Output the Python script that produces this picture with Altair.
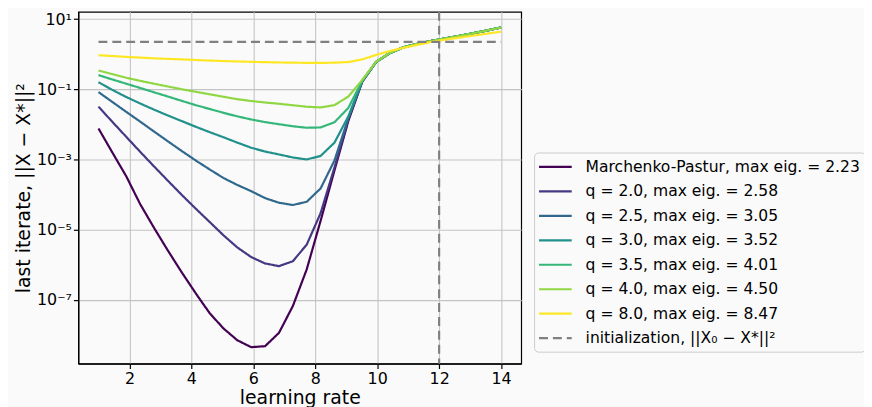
import altair as alt
import pandas as pd

# learning rates (x positions of the sampled points)
lr = [1.0, 1.448, 1.897, 2.345, 2.793, 3.241, 3.69, 4.138, 4.586, 5.034,
      5.483, 5.931, 6.379, 6.828, 7.276, 7.724, 8.172, 8.621, 9.069, 9.517,
      9.966, 10.414, 10.862, 11.31, 11.759, 12.207, 12.655, 13.103, 13.552, 14.0]

mp = [7.66e-3, 1.58e-3, 3.32e-4, 5.37e-5, 1.13e-5, 2.54e-6, 6.07e-7, 1.55e-7, 4.23e-8, 1.54e-8,
      7.08e-9, 4.49e-9, 4.79e-9, 1.15e-8, 6.65e-8, 7.38e-7, 1.78e-5, 4.90e-4, 1.26e-2, 0.164,
      0.604, 1.083, 1.58, 1.98, 2.39, 2.82, 3.31, 3.95, 4.73, 5.75]
q20 = [3.20e-2, 1.18e-2, 4.41e-3, 1.66e-3, 6.35e-4, 2.48e-4, 9.77e-5, 3.99e-5, 1.67e-5, 6.94e-6,
       3.12e-6, 1.66e-6, 1.09e-6, 9.14e-7, 1.26e-6, 3.74e-6, 2.94e-5, 5.96e-4, 1.39e-2, 0.168,
       0.60, 1.08, 1.58, 1.98, 2.39, 2.82, 3.31, 3.95, 4.74, 5.76]
q25 = [8.32e-2, 4.34e-2, 2.27e-2, 1.20e-2, 6.26e-3, 3.29e-3, 1.74e-3, 9.38e-4, 5.23e-4, 2.97e-4,
       1.88e-4, 1.25e-4, 7.94e-5, 5.85e-5, 5.04e-5, 6.24e-5, 1.49e-4, 9.38e-4, 1.53e-2, 0.170,
       0.60, 1.08, 1.58, 1.98, 2.39, 2.82, 3.31, 3.96, 4.74, 5.77]
q30 = [0.159, 9.59e-2, 6.01e-2, 3.94e-2, 2.63e-2, 1.79e-2, 1.24e-2, 8.55e-3, 6.02e-3, 4.30e-3,
       3.02e-3, 2.16e-3, 1.68e-3, 1.39e-3, 1.14e-3, 1.00e-3, 1.26e-3, 3.02e-3, 1.69e-2, 0.172,
       0.60, 1.08, 1.58, 1.98, 2.39, 2.82, 3.32, 3.96, 4.75, 5.78]
q35 = [0.253, 0.190, 0.144, 0.109, 8.20e-2, 6.21e-2, 4.67e-2, 3.53e-2, 2.75e-2, 2.14e-2,
       1.69e-2, 1.38e-2, 1.16e-2, 1.01e-2, 8.83e-3, 8.01e-3, 8.17e-3, 1.15e-2, 2.94e-2, 0.177,
       0.61, 1.09, 1.58, 1.98, 2.39, 2.82, 3.32, 3.96, 4.75, 5.78]
q40 = [0.343, 0.270, 0.213, 0.174, 0.144, 0.120, 0.100, 8.48e-2, 7.21e-2, 6.12e-2,
       5.21e-2, 4.63e-2, 4.20e-2, 3.86e-2, 3.50e-2, 3.18e-2, 3.04e-2, 3.53e-2, 6.21e-2, 0.184,
       0.61, 1.09, 1.58, 1.98, 2.38, 2.81, 3.30, 3.94, 4.72, 5.72]
q80 = [0.933, 0.885, 0.835, 0.798, 0.762, 0.733, 0.710, 0.683, 0.657, 0.636,
       0.620, 0.604, 0.592, 0.580, 0.573, 0.565, 0.562, 0.573, 0.596, 0.710,
       0.951, 1.233, 1.528, 1.846, 2.243, 2.605, 2.966, 3.378, 3.846, 4.382]

init_x = [1.0, 14.0]
init_y = [2.24, 2.24]
critical_lr = [12.0]

labels = [
    "Marchenko-Pastur, max eig. = 2.23",
    "q = 2.0, max eig. = 2.58",
    "q = 2.5, max eig. = 3.05",
    "q = 3.0, max eig. = 3.52",
    "q = 3.5, max eig. = 4.01",
    "q = 4.0, max eig. = 4.50",
    "q = 8.0, max eig. = 8.47",
    "initialization, ||X\u2080 \u2212 X*||\u00b2",
]
colors = ["#440154", "#443983", "#31688e", "#21918c", "#35b779", "#90d743", "#fde725", "#808080"]
dashes = [[1, 0]] * 7 + [[9, 5]]

series = [mp, q20, q25, q30, q35, q40, q80]
rows = []
for lab, ys in zip(labels[:7], series):
    for x, y in zip(lr, ys):
        rows.append({"lr": x, "value": y, "series": lab})
for x, y in zip(init_x, init_y):
    rows.append({"lr": x, "value": y, "series": labels[7]})
df = pd.DataFrame(rows)

FONT = "DejaVu Sans"

legend = alt.Legend(
    title=None, orient="none", legendX=460, legendY=142,
    symbolType="M-2,0H2", symbolSize=272, symbolStrokeWidth=2.2, symbolOffset=7,
    labelFontSize=15.7, labelFont=FONT, labelColor="black", labelLimit=600,
    labelOffset=21, rowPadding=6.7, padding=5,
    strokeColor="#cccccc", fillColor="#fafafa", cornerRadius=4,
)

x_scale = alt.Scale(domain=[0.35, 14.65], nice=False, zero=False)
y_scale = alt.Scale(type="log", domain=[1.535e-9, 16.07], nice=False)

ylab = ("datum.value > 1 ? '10\u00b9' : datum.value > 0.01 ? '10\u207b\u00b9' : "
        "datum.value > 0.0001 ? '10\u207b\u00b3' : datum.value > 0.000001 ? '10\u207b\u2075' : '10\u207b\u2077'")

lines = alt.Chart(df).mark_line(strokeWidth=2.2).encode(
    x=alt.X("lr:Q", scale=x_scale,
            axis=alt.Axis(values=[2, 4, 6, 8, 10, 12, 14], format="d", title="learning rate")),
    y=alt.Y("value:Q", scale=y_scale,
            axis=alt.Axis(values=[10, 0.1, 1e-3, 1e-5, 1e-7], labelExpr=ylab,
                          title="last iterate, ||X \u2212 X*||\u00b2")),
    color=alt.Color("series:N", scale=alt.Scale(domain=labels, range=colors), legend=legend),
    strokeDash=alt.StrokeDash("series:N", scale=alt.Scale(domain=labels, range=dashes), legend=legend),
)

vline = alt.Chart(pd.DataFrame({"x": critical_lr})).mark_rule(
    color="#808080", strokeWidth=2.2, strokeDash=[9, 5]
).encode(x=alt.X("x:Q", scale=x_scale))

chart = alt.layer(vline, lines).properties(
    width=447, height=355,
    autosize=alt.AutoSizeParams(type="none"),
    padding={"left": 71, "top": 2, "right": 346, "bottom": 42},
    background="#fafafa",
).configure_view(
    stroke="black", strokeWidth=1.2
).configure_axis(
    grid=True, gridColor="#c4c4c4", gridWidth=1.1,
    domainColor="black", domainWidth=1.2, tickColor="black", tickSize=5, tickWidth=1.2,
    labelFont=FONT, labelFontSize=16, labelColor="black", labelPadding=2,
    titleFont=FONT, titleFontSize=19, titleFontWeight="normal", titleColor="black",
).configure_axisX(titlePadding=2).configure_axisY(titlePadding=3)

chart.save("out.html", embed_options={"renderer": "svg", "actions": False})
